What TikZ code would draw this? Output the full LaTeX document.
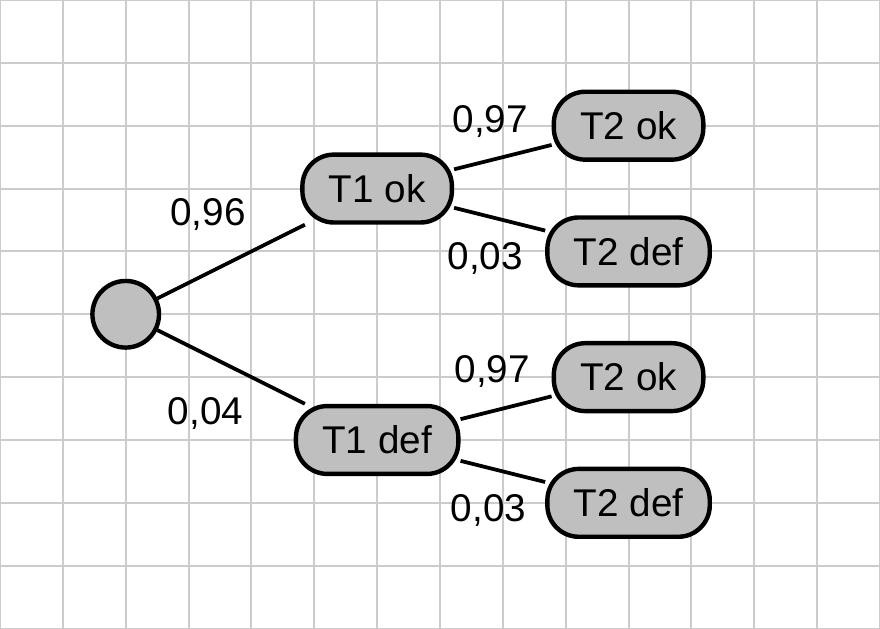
\documentclass[tikz,border=0pt]{standalone}
\usepackage{fontspec}
\setmainfont{Liberation Sans}
\tikzset{
  zustand/.style={draw=black,line width=2pt,fill=black!25,rounded corners=0.5cm,
    minimum height=1.08cm,inner xsep=0.42cm,font=\fontsize{17.5}{20}\selectfont},
  wurzel/.style={circle,draw=black,line width=2pt,fill=black!25,minimum size=1.06cm,inner sep=0pt},
  ast/.style={line width=1.7pt},
  wkeit/.style={font=\fontsize{17.5}{20}\selectfont}
}
\begin{document}
\begin{tikzpicture}
\useasboundingbox (0,0) rectangle (14,10);
\draw[step=1cm,black!20,line width=0.9pt] (0,0) grid (14,10);
% Knoten
\node[wurzel] (root) at (2,5) {};
\node[zustand] (t1ok) at (6,7) {T1 ok};
\node[zustand] (t1def) at (6,3) {T1 def};
\node[zustand] (t2okA) at (10,8) {T2 ok};
\node[zustand] (t2defA) at (10,6) {T2 def};
\node[zustand] (t2okB) at (10,4) {T2 ok};
\node[zustand] (t2defB) at (10,2) {T2 def};
% Aeste
\draw[ast] (root) -- (t1ok);
\draw[ast] (root) -- (t1def);
\draw[ast] (t1ok) -- (t2okA);
\draw[ast] (t1ok) -- (t2defA);
\draw[ast] (t1def) -- (t2okB);
\draw[ast] (t1def) -- (t2defB);
% Wahrscheinlichkeiten
\node[wkeit] (p1) at (3.31,6.58) {0,96};
\node[wkeit] (p2) at (3.27,3.42) {0,04};
\node[wkeit] (p3) at (7.80,8.07) {0,97};
\node[wkeit] (p4) at (7.72,5.89) {0,03};
\node[wkeit] (p5) at (7.83,4.09) {0,97};
\node[wkeit] (p6) at (7.77,1.88) {0,03};
\end{tikzpicture}
\end{document}
